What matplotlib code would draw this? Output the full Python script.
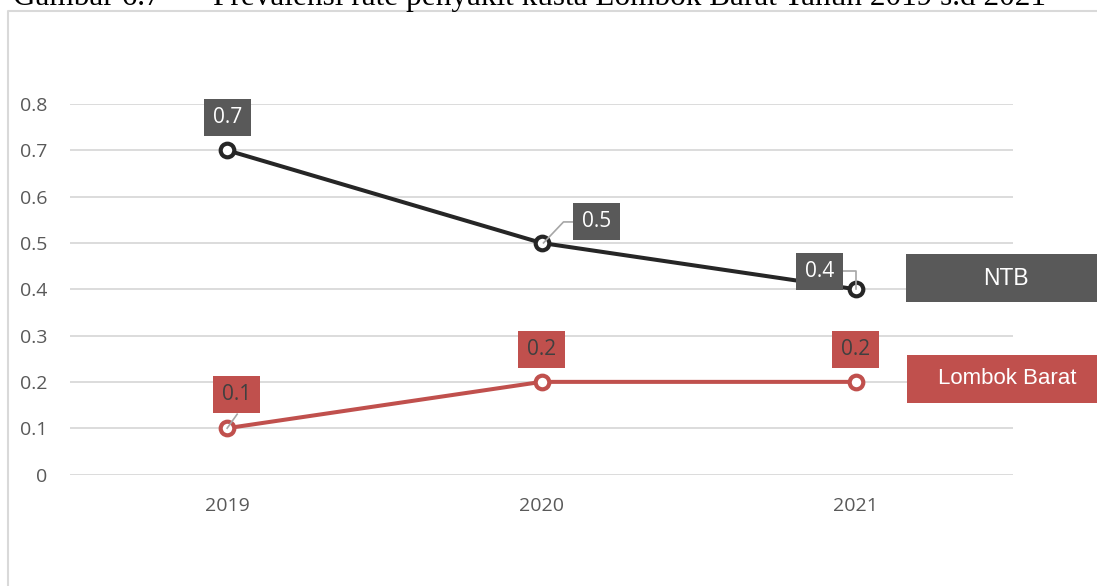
import numpy as np
import matplotlib
matplotlib.use('Agg')
import matplotlib.pyplot as plt
from matplotlib.patches import Rectangle
from matplotlib.lines import Line2D
from matplotlib.transforms import ScaledTranslation

years = ['2019', '2020', '2021']
ntb = [0.7, 0.5, 0.4]
lombok = [0.1, 0.2, 0.2]
yticks = [0, 0.1, 0.2, 0.3, 0.4, 0.5, 0.6, 0.7, 0.8]
ytick_labels = ['0', '0.1', '0.2', '0.3', '0.4', '0.5', '0.6', '0.7', '0.8']

dark = '#262626'
gray_box = '#595959'
red = '#C0504D'

W, H = 1097, 586
fig = plt.figure(figsize=(W / 100, H / 100), dpi=100)
ax = fig.add_axes([70 / W, 1 - 474.5 / H, 943 / W, 370.5 / H])

x = np.arange(len(years))
ax.plot(x, ntb, color=dark, lw=2.9, marker='o', ms=9.8, mfc='white',
        mec=dark, mew=3.0, zorder=3, clip_on=False)
ax.plot(x, lombok, color=red, lw=2.9, marker='o', ms=9.8, mfc='white',
        mec=red, mew=3.0, zorder=3, clip_on=False)

ax.set_xlim(-0.5, 2.5)
ax.set_ylim(0, 0.8)
ax.set_xticks(x)
ax.set_xticklabels(years)
ax.set_yticks(yticks)
ax.set_yticklabels(ytick_labels)
ax.grid(axis='y', color='#D9D9D9', lw=1.3, zorder=0)
for s in ax.spines.values():
    s.set_visible(False)
ax.tick_params(length=0, labelsize=14, colors='#595959')
ax.tick_params(axis='y', pad=16.5)
ax.tick_params(axis='x', pad=16)
for t in ax.get_xticklabels() + ax.get_yticklabels():
    t.set_fontfamily('Open Sans')


def anchor(xv, yv):
    # inches, measured from a data point
    return fig.dpi_scale_trans + ScaledTranslation(xv, yv, ax.transData)


def label_box(xv, yv, text, dx, dy, w, h, fc, tc, fs, family):
    tr = anchor(xv, yv)
    ax.add_artist(Rectangle(((dx - w / 2) / 100, (dy - h / 2) / 100), w / 100, h / 100,
                            transform=tr, fc=fc, ec='none', zorder=5, clip_on=False))
    ax.annotate(text, xy=(xv, yv), xytext=(dx * 0.72, dy * 0.72),
                textcoords='offset points', ha='center', va='center',
                color=tc, fontsize=fs, family=family, zorder=6,
                annotation_clip=False)


def leader(xv, yv, xs, ys):
    tr = anchor(xv, yv)
    ax.add_artist(Line2D(np.array(xs) / 100, np.array(ys) / 100, transform=tr,
                         color='#A6A6A6', lw=1.2, zorder=4, clip_on=False))


# data labels
ntb_offsets = [(0, 33), (55, 21), (-36, 18)]
lombok_offsets = [(9.5, 34), (0, 32.5), (0, 32)]
leader(1, ntb[1], [2, 22, 32], [0, 21, 21])
leader(2, ntb[2], [0, 0, -13], [0, 18, 18])
leader(0, lombok[0], [0, 10], [0, 14])
for i in range(len(years)):
    label_box(i, ntb[i], str(ntb[i]), *ntb_offsets[i], 47, 37,
              gray_box, 'white', 15, 'Open Sans')
    label_box(i, lombok[i], str(lombok[i]), *lombok_offsets[i], 47, 37,
              red, '#404040', 15, 'Open Sans')

# series name labels
label_box(2, ntb[-1], 'NTB', 150, 11, 200, 48, gray_box, 'white', 16.5, 'Liberation Sans')
label_box(2, lombok[-1], 'Lombok Barat', 151, 3, 200, 48, red, 'white', 16, 'Liberation Sans')

# chart frame and caption
fig.add_artist(Line2D([8 / W, 8 / W, 1.01], [-0.01, 1 - 10.5 / H, 1 - 10.5 / H],
                      transform=fig.transFigure, color='#D9D9D9', lw=1.5))
fig.text(13 / W, 1 - 5 / H, 'Gambar 6.7', family='Liberation Serif',
         fontsize=22.5, va='baseline', color='black')
fig.text(213 / W, 1 - 5 / H, 'Prevalensi rate penyakit kusta Lombok Barat Tahun 2019 s.d 2021',
         family='Liberation Serif', fontsize=22.5, va='baseline', color='black')

fig.savefig('out.png', dpi=100)
